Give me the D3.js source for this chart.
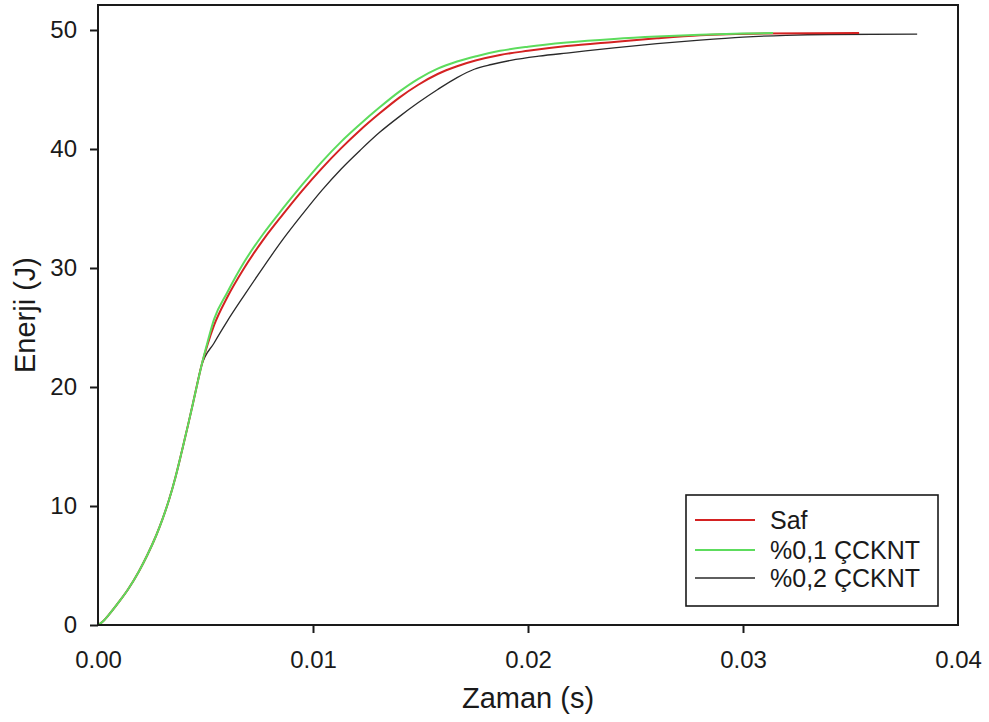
<!DOCTYPE html>
<html>
<head>
<meta charset="utf-8">
<script src="https://cdn.jsdelivr.net/npm/d3@7"></script>
<style>
  body { margin: 0; background: #fff; }
  text { font-family: "Liberation Sans", Arial, sans-serif; fill: #1a1a1a; }
  .axis path, .axis line { stroke: #1a1a1a; stroke-width: 2; }
</style>
</head>
<body>
<div id="chart"></div>
<script>
var width = 989,
    height = 722;

var margin = {top: 5, right: 31, bottom: 97, left: 98};

// zaman (s) / enerji (J)
var riseTime = [0, 0.0002, 0.0005, 0.0010, 0.0014, 0.0019, 0.0023, 0.0027, 0.0030, 0.0033, 0.0036, 0.0039, 0.0042, 0.0045, 0.0048];
var riseEnergy = [0, 0.25, 0.85, 2.0, 3.0, 4.5, 5.9, 7.5, 8.9, 10.5, 12.4, 14.6, 16.9, 19.3, 21.7];

var safTime = [0.0051, 0.0054, 0.0060, 0.0068, 0.0077, 0.0086, 0.0095, 0.0104, 0.0113, 0.0122, 0.0131, 0.0140,
  0.0149, 0.0158, 0.0167, 0.0176, 0.0187, 0.0200, 0.0218, 0.0240, 0.0260, 0.0280, 0.0310, 0.0354];
var safEnergy = [23.6, 25.2, 27.5, 30.0, 32.4, 34.5, 36.5, 38.35, 40.05, 41.6, 43.0, 44.3,
  45.4, 46.3, 46.95, 47.45, 47.9, 48.25, 48.65, 49.0, 49.3, 49.55, 49.7, 49.75];

var cnt01Time = [0.0051, 0.0054, 0.0060, 0.0068, 0.0077, 0.0086, 0.0095, 0.0104, 0.0113, 0.0122, 0.0131, 0.0140,
  0.0149, 0.0158, 0.0167, 0.0176, 0.0187, 0.0200, 0.0218, 0.0240, 0.0260, 0.0280, 0.0300, 0.0314];
var cnt01Energy = [23.8, 25.7, 27.9, 30.5, 32.9, 35.0, 37.0, 38.9, 40.6, 42.1, 43.5, 44.8,
  45.9, 46.75, 47.35, 47.8, 48.25, 48.6, 48.95, 49.25, 49.45, 49.6, 49.7, 49.75];

var cnt02Time = [0.0054, 0.0060, 0.0068, 0.0077, 0.0086, 0.0095, 0.0104, 0.0113, 0.0122, 0.0131, 0.0140, 0.0149,
  0.0158, 0.0167, 0.0175, 0.0183, 0.0192, 0.0205, 0.0220, 0.0240, 0.0260, 0.0280, 0.0300, 0.0320, 0.0340, 0.0381];
var cnt02Energy = [23.7, 25.5, 27.7, 30.1, 32.4, 34.5, 36.5, 38.3, 39.9, 41.4, 42.7, 43.9,
  45.0, 46.0, 46.7, 47.1, 47.45, 47.8, 48.1, 48.5, 48.85, 49.15, 49.4, 49.55, 49.62, 49.65];

var seriesNames = ["Saf", "%0,1 ÇCKNT", "%0,2 ÇCKNT"];
var seriesColors = ["#d42222", "#5ddc5d", "#2a2a2a"];
var seriesWidths = [2, 2, 1.3];

var xTicks = [0, 0.01, 0.02, 0.03, 0.04];
var yTicks = [0, 10, 20, 30, 40, 50];

function zip(ts, vs) {
  var all = riseTime.concat(ts), vals = riseEnergy.concat(vs);
  return all.map(function(t, i) { return {t: t, v: vals[i]}; });
}

var series = [
  {name: seriesNames[0], color: seriesColors[0], w: seriesWidths[0], values: zip(safTime, safEnergy)},
  {name: seriesNames[1], color: seriesColors[1], w: seriesWidths[1], values: zip(cnt01Time, cnt01Energy)},
  {name: seriesNames[2], color: seriesColors[2], w: seriesWidths[2], values: zip(cnt02Time, cnt02Energy)}
];

var svg = d3.select("#chart")
    .append("svg")
    .attr("width", width)
    .attr("height", height);

var iw = width - margin.left - margin.right,
    ih = height - margin.top - margin.bottom;

var g = svg.append("g")
    .attr("transform", "translate(" + margin.left + "," + margin.top + ")");

var x = d3.scaleLinear().domain([0, 0.04]).range([0, iw]);
var y = d3.scaleLinear().domain([0, 52.1]).range([ih, 0]);

var line = d3.line()
    .x(function(d) { return x(d.t); })
    .y(function(d) { return y(d.v); })
    .curve(d3.curveMonotoneX);

// draw black first, then red, then green on top
[2, 0, 1].forEach(function(i) {
  var s = series[i];
  g.append("path")
      .datum(s.values)
      .attr("fill", "none")
      .attr("stroke", s.color)
      .attr("stroke-width", s.w)
      .attr("d", line);
});

// frame
g.append("rect")
    .attr("width", iw)
    .attr("height", ih)
    .attr("fill", "none")
    .attr("stroke", "#1a1a1a")
    .attr("stroke-width", 2);

var xAxis = g.append("g")
    .attr("class", "axis")
    .attr("transform", "translate(0," + ih + ")")
    .call(d3.axisBottom(x).tickValues(xTicks).tickFormat(d3.format(".2f")).tickSize(8).tickSizeOuter(0));
xAxis.selectAll(".tick line").filter(function(d) { return d === 0 || d === 0.04; }).remove();
xAxis.selectAll("text").attr("font-size", 24).attr("dy", "1.35em").attr("font-family", null);

var yAxis = g.append("g")
    .attr("class", "axis")
    .call(d3.axisLeft(y).tickValues(yTicks).tickFormat(d3.format("d")).tickSize(8).tickSizeOuter(0));
yAxis.selectAll("text").attr("font-size", 24).attr("x", -21).attr("font-family", null);
xAxis.select(".domain").remove();
yAxis.select(".domain").remove();

// axis titles
svg.append("text")
    .attr("x", margin.left + iw / 2)
    .attr("y", 708)
    .attr("text-anchor", "middle")
    .attr("font-size", 29)
    .text("Zaman (s)");

svg.append("text")
    .attr("transform", "translate(35," + (margin.top + ih / 2) + ") rotate(-90)")
    .attr("text-anchor", "middle")
    .attr("font-size", 29)
    .text("Enerji (J)");

// legend
var legend = svg.append("g").attr("transform", "translate(686,495)");
legend.append("rect")
    .attr("width", 252)
    .attr("height", 111)
    .attr("fill", "#fff")
    .attr("stroke", "#1a1a1a")
    .attr("stroke-width", 1.6);

var rowY = [25, 55, 83];
series.forEach(function(s, i) {
  legend.append("line")
      .attr("x1", 9).attr("x2", 69)
      .attr("y1", rowY[i]).attr("y2", rowY[i])
      .attr("stroke", s.color)
      .attr("stroke-width", s.w);
  legend.append("text")
      .attr("x", 84)
      .attr("y", rowY[i])
      .attr("dy", "0.35em")
      .attr("font-size", 25)
      .text(s.name);
});
</script>
</body>
</html>
